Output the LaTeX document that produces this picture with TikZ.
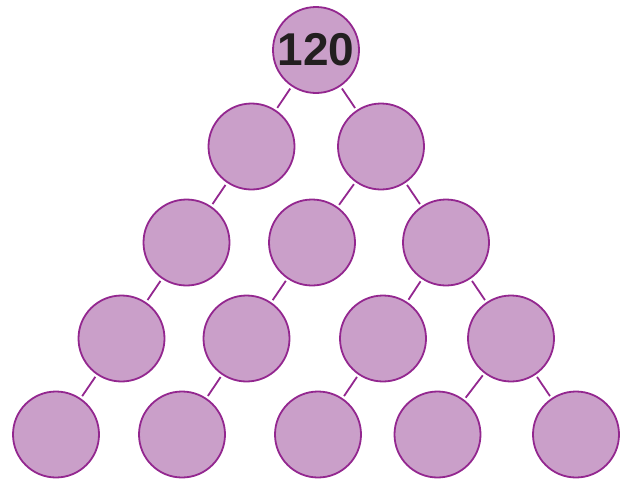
\documentclass[tikz,border=0pt]{standalone}
\usepackage{fontspec}
\setmainfont{Liberation Sans}
\usepackage{xcolor}
\definecolor{plum}{HTML}{93278F}
\definecolor{lilac}{HTML}{CA9FC9}
\definecolor{ink}{HTML}{231F20}

\begin{document}
\begin{tikzpicture}[
  x=1pt, y=-1pt,
  nd/.style={circle, draw=plum, fill=lilac, line width=1.8pt, minimum size=86pt, inner sep=0pt},
  edge/.style={draw=plum, line width=1.8pt, shorten <=2.5pt, shorten >=2.5pt}
]
\useasboundingbox (0,0) rectangle (637,480);
% number pyramid
\node[nd, text=ink, font=\fontsize{46}{46}\selectfont\bfseries] (r) at (316,50) {120};
\node[nd] (a) at (251.5,146.5) {};
\node[nd] (b) at (381,146.5) {};
\node[nd] (c) at (186.5,242.5) {};
\node[nd] (d) at (312,242.5) {};
\node[nd] (e) at (446,242.5) {};
\node[nd] (f) at (121.5,338.5) {};
\node[nd] (g) at (246.5,338.5) {};
\node[nd] (h) at (383,338.5) {};
\node[nd] (i) at (511,338.5) {};
\node[nd] (j) at (56,434.5) {};
\node[nd] (k) at (182,434.5) {};
\node[nd] (l) at (318,434.5) {};
\node[nd] (m) at (437.5,434.5) {};
\node[nd] (n) at (576,434.5) {};
\draw[edge] (r) -- (a);
\draw[edge] (r) -- (b);
\draw[edge] (a) -- (c);
\draw[edge] (b) -- (d);
\draw[edge] (b) -- (e);
\draw[edge] (c) -- (f);
\draw[edge] (d) -- (g);
\draw[edge] (e) -- (h);
\draw[edge] (e) -- (i);
\draw[edge] (f) -- (j);
\draw[edge] (g) -- (k);
\draw[edge] (h) -- (l);
\draw[edge] (i) -- (m);
\draw[edge] (i) -- (n);
\end{tikzpicture}
\end{document}
